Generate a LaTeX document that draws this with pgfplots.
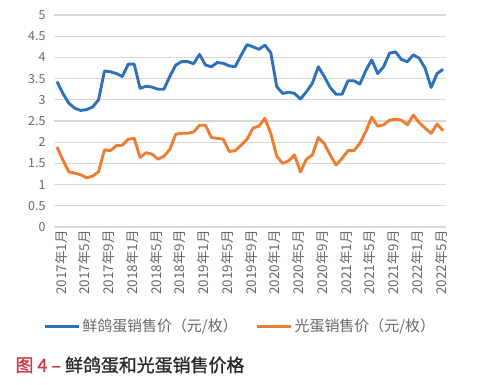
\documentclass[border=0pt]{standalone}
\usepackage{fontspec}
\setmainfont{Noto Sans CJK SC}
\newfontfamily\capfont[FakeBold=1.2]{Noto Sans CJK SC}
\usepackage{pgfplots}
\usepackage{pgfplotstable}
\pgfplotsset{compat=1.18}
\definecolor{blueline}{RGB}{46,112,185}
\definecolor{orangeline}{RGB}{237,125,49}
\definecolor{gridc}{RGB}{217,217,217}
\definecolor{tickc}{RGB}{105,105,105}
\definecolor{capred}{RGB}{210,55,70}
\pgfplotstableread{
i pigeon plain
0 3.43 1.89
1 3.15 1.58
2 2.92 1.30
3 2.80 1.27
4 2.75 1.23
5 2.77 1.16
6 2.83 1.20
7 3.00 1.30
8 3.68 1.82
9 3.66 1.80
10 3.62 1.92
11 3.55 1.93
12 3.84 2.07
13 3.84 2.09
14 3.27 1.64
15 3.32 1.75
16 3.30 1.72
17 3.25 1.60
18 3.25 1.67
19 3.55 1.83
20 3.82 2.19
21 3.90 2.21
22 3.90 2.21
23 3.85 2.24
24 4.07 2.40
25 3.82 2.40
26 3.78 2.11
27 3.88 2.09
28 3.86 2.07
29 3.80 1.78
30 3.78 1.80
31 4.05 1.93
32 4.30 2.07
33 4.25 2.33
34 4.19 2.38
35 4.29 2.56
36 4.11 2.21
37 3.31 1.67
38 3.15 1.50
39 3.18 1.56
40 3.15 1.70
41 3.02 1.30
42 3.19 1.60
43 3.39 1.70
44 3.78 2.11
45 3.55 1.97
46 3.29 1.70
47 3.13 1.46
48 3.13 1.62
49 3.45 1.80
50 3.45 1.80
51 3.37 1.97
52 3.69 2.25
53 3.94 2.59
54 3.62 2.38
55 3.78 2.41
56 4.10 2.52
57 4.13 2.54
58 3.95 2.52
59 3.90 2.41
60 4.06 2.64
61 3.98 2.46
62 3.74 2.33
63 3.29 2.21
64 3.62 2.43
65 3.72 2.27
}\datatable
\begin{document}
\begin{tikzpicture}
\useasboundingbox (-54bp,-158bp) rectangle (428bp,227bp);
\begin{axis}[
  scale only axis, width=392bp, height=212bp,
  xmin=-0.5, xmax=65.5, ymin=0, ymax=5,
  axis line style={draw=none},
  ytick={0,0.5,1,1.5,2,2.5,3,3.5,4,4.5,5},
  yticklabel style={font=\fontsize{12.5}{14}\selectfont, text=tickc, xshift=-5bp},
  /pgf/number format/assume math mode=true,
  ymajorgrids, grid style={gridc, line width=1.2bp},
  major tick length=0pt,
  xtick={0,4,...,64},
  xticklabels={2017年1月,2017年5月,2017年9月,2018年1月,2018年5月,2018年9月,2019年1月,2019年5月,2019年9月,2020年1月,2020年5月,2020年9月,2021年1月,2021年5月,2021年9月,2022年1月,2022年5月},
  xticklabel style={rotate=90, anchor=east, font=\fontsize{13.5}{15}\selectfont, text=tickc, yshift=-4bp},
  legend columns=2,
  legend style={draw=none, at={(0.475,-0.467)}, anchor=center, font=\fontsize{15}{17}\selectfont, text=tickc, /tikz/every even column/.append style={column sep=16bp}},
  legend image code/.code={\draw[#1, line width=3bp] (0bp,0bp) -- (34bp,0bp);},
]
\addplot[blueline, line width=2.9bp, line join=round] table[x=i, y=pigeon] {\datatable};
\addlegendentry{鲜鸽蛋销售价（元/枚）}
\addplot[orangeline, line width=2.9bp, line join=round] table[x=i, y=plain] {\datatable};
\addlegendentry{光蛋销售价（元/枚）}
\end{axis}
\node[anchor=west, font=\fontsize{18}{20}\selectfont\capfont, text={rgb,255:red,40;green,40;blue,40}] at (-42bp,-138bp) {\textcolor{capred}{图 4 –} 鲜鸽蛋和光蛋销售价格};
\end{tikzpicture}
\end{document}
